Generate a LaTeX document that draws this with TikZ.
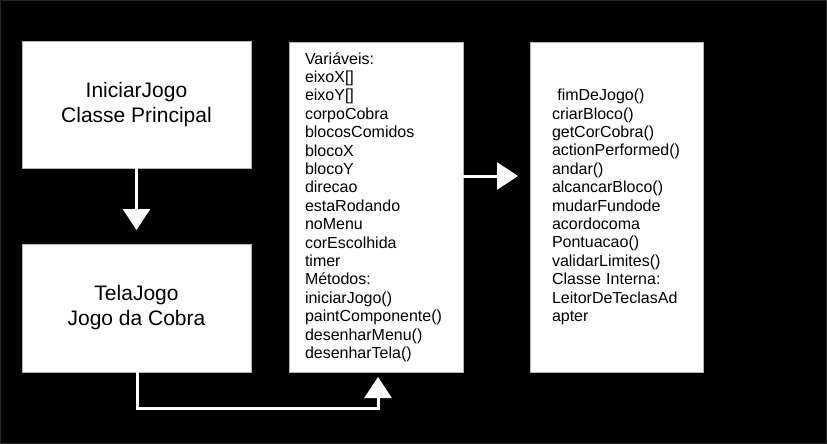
\documentclass[tikz,border=0pt]{standalone}
\usepackage{fontspec}
\setmainfont{Liberation Sans}
\usetikzlibrary{arrows.meta}
\begin{document}
\begin{tikzpicture}[x=1pt,y=-1pt,
  box/.style={draw=gray!60,line width=0.8pt,fill=white,text=black,inner sep=0pt},
  conn/.style={draw=white,line width=3pt,-{Triangle[width=27pt,length=21pt]}}]
\useasboundingbox (0,0) rectangle (827,444);
\fill[black] (0,0) rectangle (827,444);
\draw[black!85,line width=1pt] (0.5,0.5) rectangle (826.5,443.5);
\node[box,minimum width=229pt,minimum height=127pt,align=center,font=\fontsize{21}{25}\selectfont] (ini) at (136.5,104.5) {IniciarJogo\\Classe Principal};
\node[box,minimum width=229pt,minimum height=128pt,align=center,font=\fontsize{21}{25}\selectfont] (tela) at (136.5,308) {TelaJogo\\Jogo da Cobra};
\node[box,minimum width=174pt,minimum height=330pt,inner xsep=16pt,text width=142pt,align=left,font=\fontsize{16}{18.4}\selectfont] (vars) at (376,207) {Variáveis:\\eixoX[]\\eixoY[]\\corpoCobra\\blocosComidos\\blocoX\\blocoY\\direcao\\estaRodando\\noMenu\\corEscolhida\\timer\\Métodos:\\iniciarJogo()\\paintComponente()\\desenharMenu()\\desenharTela()};
\node[box,minimum width=173pt,minimum height=330pt,inner xsep=22pt,text width=129pt,align=left,font=\fontsize{16}{18.4}\selectfont] (meth) at (616.5,207) {\ fimDeJogo()\\criarBloco()\\getCorCobra()\\actionPerformed()\\andar()\\alcancarBloco()\\mudarFundode\\acordocoma\\Pontuacao()\\validarLimites()\\Classe Interna:\\LeitorDeTeclasAd\\apter};
\coordinate (c1) at (137,408);
\coordinate (c2) at (378,408);
\draw[conn] (ini.south) -- (136.5,230);
\draw[conn] (vars.east |- 0,176) -- (518,176);
\draw[conn] (tela.south -| c1) -- (c1) -- (c2) -- (378,377);
\end{tikzpicture}
\end{document}
